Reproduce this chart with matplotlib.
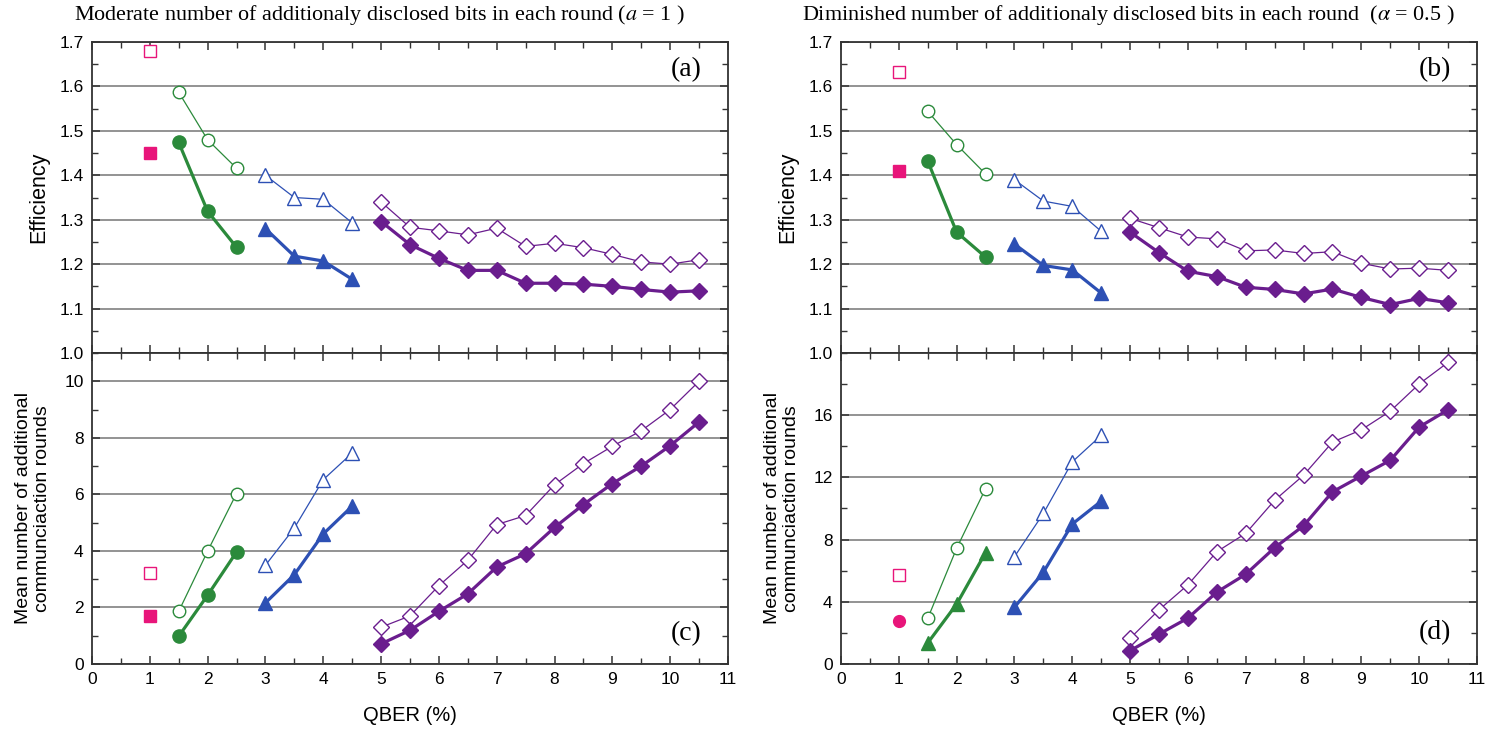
import numpy as np
import matplotlib
matplotlib.use("Agg")
import matplotlib.pyplot as plt
from matplotlib.ticker import MultipleLocator, FormatStrFormatter

plt.rcParams.update({"font.family": "Liberation Sans", "font.size": 12,
                     "mathtext.fontset": "stix"})

# QBER positions (%)
x_pink = [1]
x_green = [1.5, 2, 2.5]
x_blue = [3, 3.5, 4, 4.5]
x_purple = [5, 5.5, 6, 6.5, 7, 7.5, 8, 8.5, 9, 9.5, 10, 10.5]

# (a) efficiency, alpha = 1
a_pink_open = [1.68]
a_pink_fill = [1.45]
a_green_open = [1.587, 1.48, 1.416]
a_green_fill = [1.474, 1.319, 1.238]
a_blue_open = [1.40, 1.35, 1.346, 1.293]
a_blue_fill = [1.28, 1.218, 1.207, 1.166]
a_purple_open = [1.34, 1.283, 1.275, 1.266, 1.281, 1.24, 1.247, 1.237, 1.222, 1.205, 1.20, 1.21]
a_purple_fill = [1.296, 1.244, 1.213, 1.186, 1.186, 1.157, 1.157, 1.155, 1.15, 1.143, 1.137, 1.14]

# (b) efficiency, alpha = 0.5
b_pink_open = [1.632]
b_pink_fill = [1.409]
b_green_open = [1.544, 1.469, 1.403]
b_green_fill = [1.432, 1.272, 1.216]
b_blue_open = [1.39, 1.342, 1.33, 1.274]
b_blue_fill = [1.245, 1.197, 1.187, 1.135]
b_purple_open = [1.303, 1.282, 1.261, 1.257, 1.23, 1.232, 1.224, 1.228, 1.202, 1.189, 1.191, 1.186]
b_purple_fill = [1.272, 1.226, 1.184, 1.172, 1.148, 1.143, 1.133, 1.144, 1.125, 1.109, 1.123, 1.113]

# (c) mean number of additional rounds, alpha = 1
c_pink_open = [3.21]
c_pink_fill = [1.71]
c_green_open = [1.86, 3.99, 6.03]
c_green_fill = [0.98, 2.43, 3.96]
c_blue_open = [3.49, 4.81, 6.52, 7.46]
c_blue_fill = [2.16, 3.16, 4.60, 5.58]
c_purple_open = [1.30, 1.70, 2.77, 3.67, 4.93, 5.25, 6.34, 7.09, 7.70, 8.25, 9.0, 10.0]
c_purple_fill = [0.71, 1.19, 1.86, 2.48, 3.43, 3.90, 4.83, 5.64, 6.38, 7.0, 7.72, 8.56]

# (d) mean number of additional rounds, alpha = 0.5
d_pink_open = [5.73]
d_pink_fill = [2.78]
d_green_open = [2.93, 7.44, 11.28]
d_green_fill = [1.35, 3.85, 7.16]
d_blue_open = [6.9, 9.68, 13.0, 14.7]
d_blue_fill = [3.65, 5.9, 9.0, 10.47]
d_purple_open = [1.65, 3.48, 5.09, 7.22, 8.4, 10.53, 12.14, 14.27, 15.06, 16.26, 18.01, 19.4]
d_purple_fill = [0.85, 1.92, 2.95, 4.62, 5.77, 7.48, 8.89, 11.07, 12.09, 13.1, 15.24, 16.35]

PINK, GREEN, BLUE, PURPLE = "#e8157a", "#2b8a3b", "#2d50b4", "#6a1d8e"
THIN, THICK = 0.9, 2.3

fig = plt.figure(figsize=(14.93, 7.31), dpi=100)
L, R = 0.0616, 0.5633
W, H = 0.426, 0.4254
ax_a = fig.add_axes([L, 0.5171, W, H])
ax_b = fig.add_axes([R, 0.5171, W, H])
ax_c = fig.add_axes([L, 0.0917, W, H])
ax_d = fig.add_axes([R, 0.0917, W, H])


def draw(ax, po, pf, go, gf, bo, bf, qo, qf, pf_marker="s", gf_marker="o"):
    ax.plot(x_pink, po, ls="none", marker="s", ms=8, mfc="white", mec=PINK, mew=1.0)
    ax.plot(x_pink, pf, ls="none", marker=pf_marker, ms=8.5, color=PINK)
    ax.plot(x_green, go, color=GREEN, lw=THIN, marker="o", ms=9, mfc="white", mec=GREEN, mew=1.0)
    ax.plot(x_green, gf, color=GREEN, lw=THICK, marker=gf_marker, ms=9.5, mec=GREEN)
    ax.plot(x_blue, bo, color=BLUE, lw=THIN, marker="^", ms=10, mfc="white", mec=BLUE, mew=1.0)
    ax.plot(x_blue, bf, color=BLUE, lw=THICK, marker="^", ms=10, mec=BLUE)
    ax.plot(x_purple, qo, color=PURPLE, lw=THIN, marker="D", ms=8, mfc="white", mec=PURPLE, mew=1.0)
    ax.plot(x_purple, qf, color=PURPLE, lw=THICK, marker="D", ms=8.5, mec=PURPLE)


draw(ax_a, a_pink_open, a_pink_fill, a_green_open, a_green_fill, a_blue_open, a_blue_fill,
     a_purple_open, a_purple_fill)
draw(ax_b, b_pink_open, b_pink_fill, b_green_open, b_green_fill, b_blue_open, b_blue_fill,
     b_purple_open, b_purple_fill)
draw(ax_c, c_pink_open, c_pink_fill, c_green_open, c_green_fill, c_blue_open, c_blue_fill,
     c_purple_open, c_purple_fill)
draw(ax_d, d_pink_open, d_pink_fill, d_green_open, d_green_fill, d_blue_open, d_blue_fill,
     d_purple_open, d_purple_fill, pf_marker="o", gf_marker="^")

for ax in (ax_a, ax_b, ax_c, ax_d):
    ax.set_xlim(0, 11)
    ax.xaxis.set_major_locator(MultipleLocator(1))
    ax.xaxis.set_minor_locator(MultipleLocator(0.5))
    ax.tick_params(which="both", direction="in", top=True, right=True, color="#333333",
                   labelsize=12.5, pad=6)
    ax.tick_params(which="major", length=6, width=1.1)
    ax.tick_params(which="minor", length=4, width=1.0)
    ax.yaxis.grid(True, color="#8a8a8a", lw=1.3)
    ax.set_axisbelow(True)
    for s in ax.spines.values():
        s.set_color("#333333")
        s.set_linewidth(1.3)

for ax in (ax_a, ax_b):
    ax.set_ylim(1.0, 1.7)
    ax.yaxis.set_major_locator(MultipleLocator(0.1))
    ax.yaxis.set_minor_locator(MultipleLocator(0.05))
    ax.yaxis.set_major_formatter(FormatStrFormatter("%.1f"))
    ax.tick_params(labelbottom=False)
    ax.set_ylabel("Efficiency", fontsize=15.5, va="center")
    ax.yaxis.set_label_coords(-0.083, 0.5)

ax_c.set_ylim(0, 11)
ax_c.yaxis.set_major_locator(MultipleLocator(2))
ax_c.yaxis.set_minor_locator(MultipleLocator(1))
ax_d.set_ylim(0, 20)
ax_d.set_yticks([0, 4, 8, 12, 16])
ax_d.yaxis.set_minor_locator(MultipleLocator(2))

for ax in (ax_c, ax_d):
    ax.set_ylabel("Mean number of additional\ncommunciaction rounds", fontsize=14,
                  va="center", linespacing=1.15)
    ax.yaxis.set_label_coords(-0.093, 0.5)
    ax.set_xlabel("QBER (%)", fontsize=14.5, va="center")
    ax.xaxis.set_label_coords(0.5, -0.167)

for ax, lab, y in ((ax_a, "(a)", 0.91), (ax_b, "(b)", 0.91), (ax_c, "(c)", 0.097), (ax_d, "(d)", 0.1)):
    ax.text(0.934, y, lab, transform=ax.transAxes, ha="center", va="center",
            fontsize=20, family="Liberation Serif")

fig.text(379 / 1493, 1 - 15 / 731,
         r"Moderate number of additionaly disclosed bits in each round ($a$ = 1 )",
         ha="center", va="center", fontsize=15.9, family="Liberation Serif")
fig.text(1128 / 1493, 1 - 15 / 731,
         r"Diminished number of additionaly disclosed bits in each round  ($\alpha$ = 0.5 )",
         ha="center", va="center", fontsize=15.9, family="Liberation Serif")

fig.savefig("out.png", dpi=100)
